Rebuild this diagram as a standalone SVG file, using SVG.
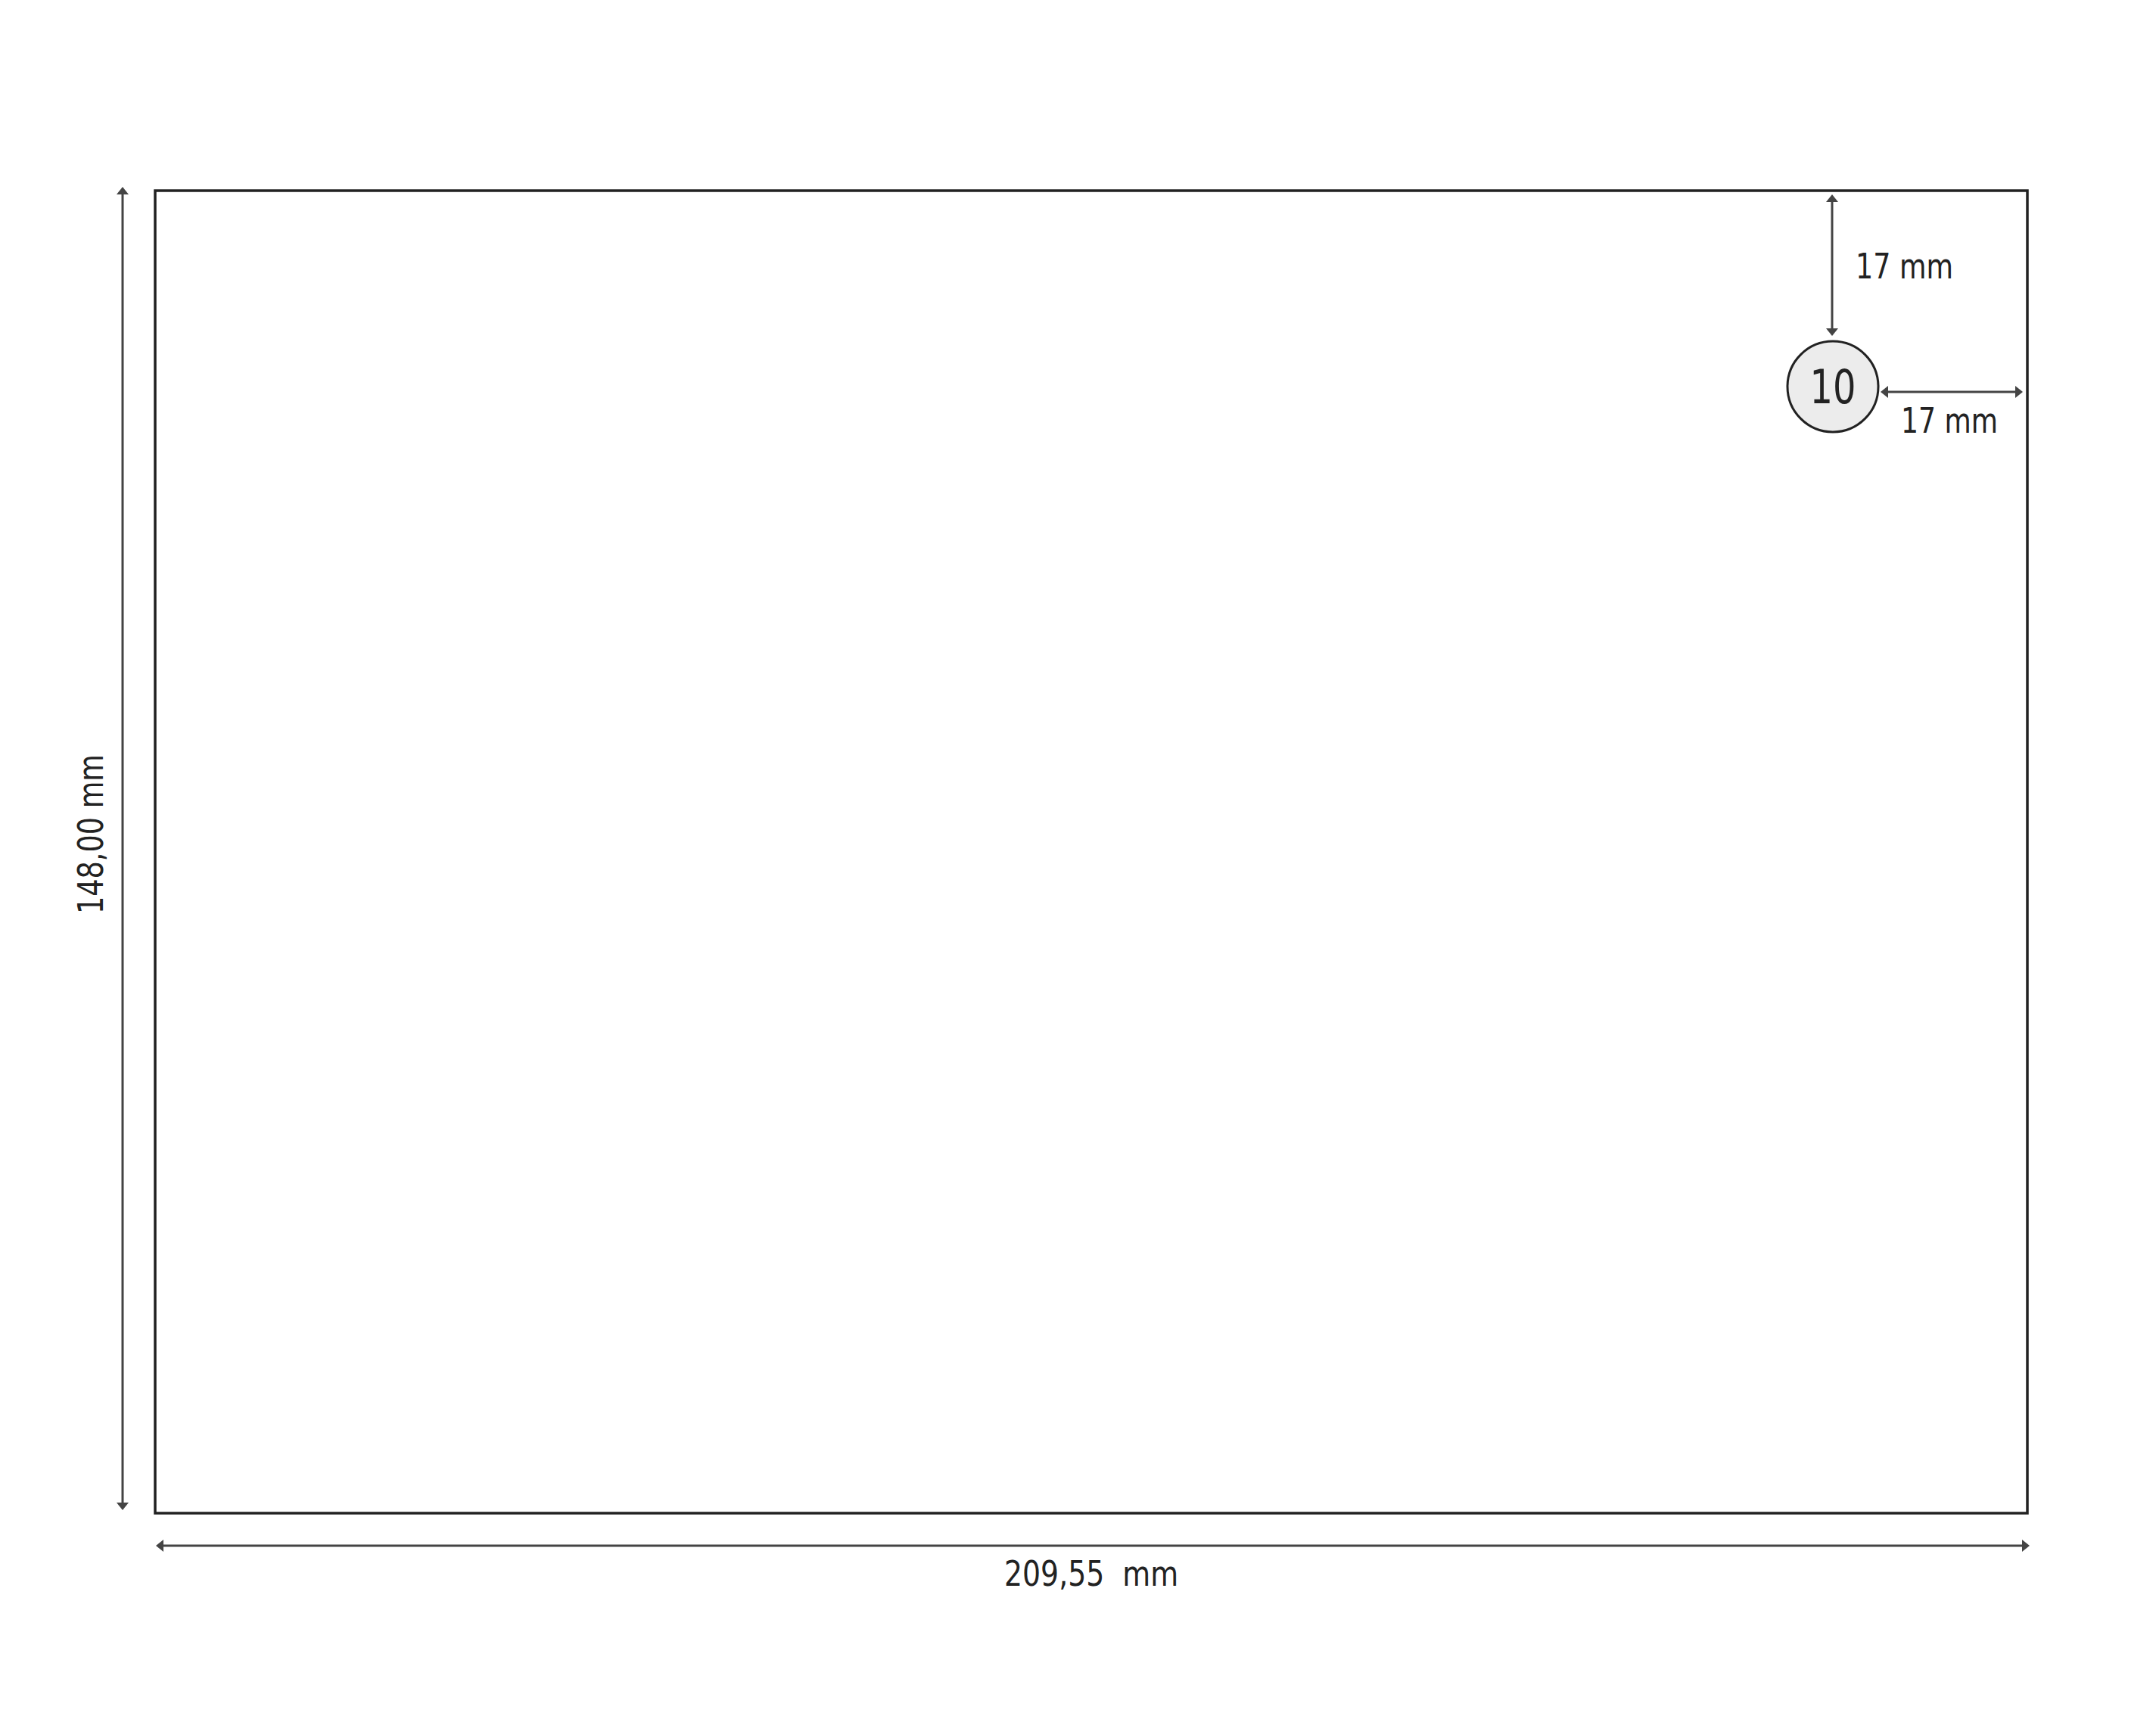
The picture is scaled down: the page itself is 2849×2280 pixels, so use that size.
<svg xmlns="http://www.w3.org/2000/svg" width="2849" height="2280" viewBox="0 0 2849 2280">
<style>
.dim{stroke:#444;stroke-width:3;fill:none}
.lbl{font-family:"DejaVu Sans Condensed","DejaVu Sans",sans-serif;font-stretch:condensed;font-size:46px;fill:#222;font-weight:300}
.big{font-size:62px}
</style>
<defs>
<marker id="ahb" viewBox="0 0 10 16" refX="2" refY="8" markerWidth="10" markerHeight="16" markerUnits="userSpaceOnUse" orient="auto-start-reverse">
<path d="M0,0 L10,8 L0,16 Z" fill="#444"/>
</marker>
</defs>
<rect width="2849" height="2280" fill="#fff"/>
<g id="sheet">
<rect x="205" y="252" width="2474" height="1748" fill="none" stroke="#222" stroke-width="3.5"/>
</g>
<g id="hole">
<circle cx="2422" cy="511" r="60" fill="#ececec" stroke="#222" stroke-width="3"/>
<text class="lbl big" x="2422" y="533" text-anchor="middle" textLength="61" lengthAdjust="spacingAndGlyphs">10</text>
</g>
<g id="connectors">
<line class="dim" x1="162" y1="255" x2="162" y2="1988" marker-start="url(#ahb)" marker-end="url(#ahb)"/>
<line class="dim" x1="214" y1="2043" x2="2674" y2="2043" marker-start="url(#ahb)" marker-end="url(#ahb)"/>
<line class="dim" x1="2421" y1="265" x2="2421" y2="436" marker-start="url(#ahb)" marker-end="url(#ahb)"/>
<line class="dim" x1="2493" y1="518" x2="2665" y2="518" marker-start="url(#ahb)" marker-end="url(#ahb)"/>
</g>
<g id="labels">
<text class="lbl" x="2452" y="368" textLength="129" lengthAdjust="spacingAndGlyphs">17 mm</text>
<text class="lbl" x="2512" y="572" textLength="128" lengthAdjust="spacingAndGlyphs">17 mm</text>
<text class="lbl" x="1327" y="2096" textLength="230" lengthAdjust="spacingAndGlyphs" xml:space="preserve">209,55  mm</text>
<text class="lbl" transform="translate(136,1208) rotate(-90)" x="0" y="0" textLength="211" lengthAdjust="spacingAndGlyphs">148,00 mm</text>
</g>
</svg>
